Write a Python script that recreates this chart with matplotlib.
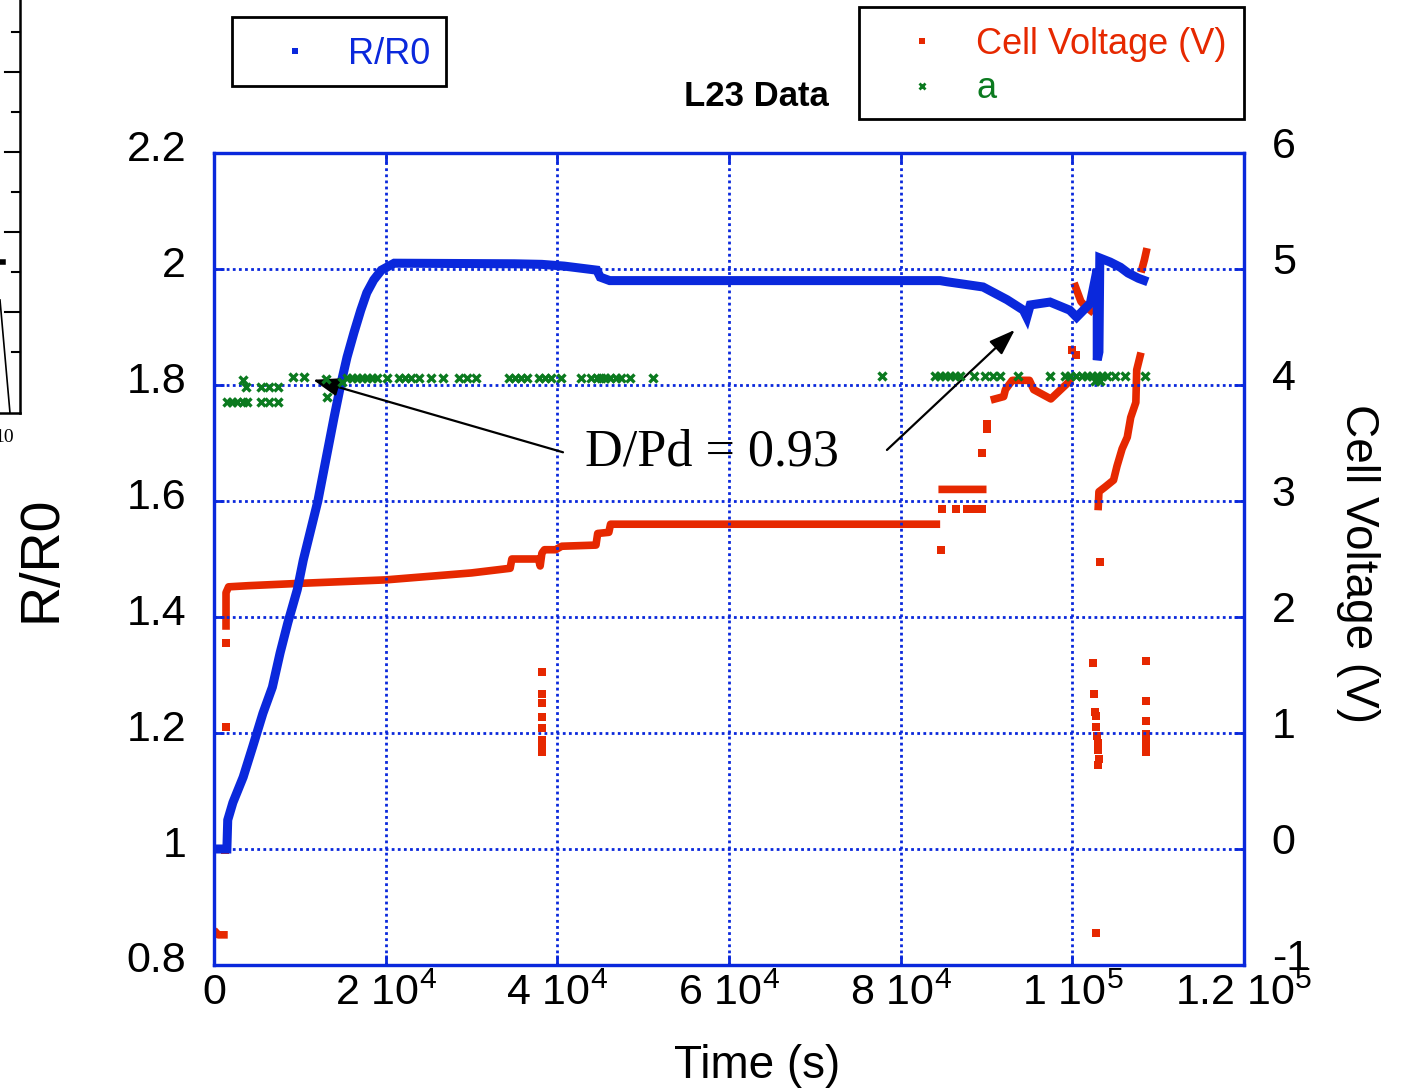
import numpy as np
import matplotlib
matplotlib.use('Agg')
import matplotlib.pyplot as plt
import matplotlib.transforms as mtransforms
from matplotlib.lines import Line2D
from matplotlib.patches import Rectangle

plt.rcParams['font.family'] = ['Liberation Sans', 'DejaVu Sans']
plt.rcParams['mathtext.fontset'] = 'custom'
plt.rcParams['mathtext.rm'] = 'Liberation Sans'
plt.rcParams['mathtext.it'] = 'Liberation Sans:italic'

blue = '#0a28dc'
red = '#e62800'
green = '#0b7a1f'

W, H = 1401, 1088

# times are in units of 1e4 s
rr0_t = [0, 0.15, 0.16, 0.22, 0.34, 0.45, 0.57, 0.68, 0.77, 0.86, 0.97, 1.04, 1.21, 1.40, 1.48,
         1.55, 1.63, 1.71, 1.78, 1.86, 1.95, 2.10, 3.50, 3.82, 4.08, 4.46, 4.50, 4.61, 8.46, 8.54,
         8.96, 9.24, 9.43, 9.47, 9.51, 9.74, 9.97, 10.05, 10.21, 10.29, 10.29, 10.31, 10.32, 10.44,
         10.56, 10.65, 10.77, 10.88]
rr0_v = [1.0, 1.0, 1.05, 1.08, 1.124, 1.176, 1.234, 1.279, 1.338, 1.39, 1.447, 1.498, 1.60, 1.745,
         1.803, 1.848, 1.89, 1.929, 1.959, 1.981, 1.998, 2.010, 2.009, 2.008, 2.005, 1.998, 1.986,
         1.980, 1.980, 1.978, 1.969, 1.947, 1.929, 1.917, 1.938, 1.943, 1.929, 1.917, 1.941, 2.000,
         1.843, 1.857, 2.019, 2.012, 2.003, 1.993, 1.984, 1.978]

# cell voltage, continuous runs (nan = gap in the record)
volt_t = [0, 0.05, 0.16, np.nan,
          0.14, 0.14, 0.17, 0.4, 1.0, 2.0, 3.0, 3.45, 3.47, 3.78, 3.80, 3.82, 3.85, 3.98, 4.05,
          4.45, 4.47, 4.60, 4.62, 8.46, np.nan,
          8.44, 9.00, np.nan,
          9.05, 9.20, 9.22, 9.30, 9.50, 9.55, 9.65, 9.75, 9.85, 9.95, 10.01, np.nan,
          10.02, 10.05, 10.10, 10.15, 10.25, np.nan,
          10.30, 10.31, 10.38, 10.48, 10.52, 10.58, 10.64, 10.68, 10.74, 10.75, 10.80, np.nan,
          10.80, 10.84, 10.87]
volt_v = [-0.70, -0.74, -0.74, np.nan,
          1.89, 2.21, 2.26, 2.27, 2.29, 2.32, 2.38, 2.42, 2.50, 2.50, 2.44, 2.55, 2.58, 2.58, 2.61,
          2.62, 2.72, 2.73, 2.80, 2.80, np.nan,
          3.10, 3.10, np.nan,
          3.87, 3.90, 3.96, 4.04, 4.04, 3.96, 3.92, 3.88, 3.95, 4.02, 4.03, np.nan,
          4.88, 4.82, 4.72, 4.68, 4.62, np.nan,
          2.92, 3.08, 3.12, 3.18, 3.30, 3.45, 3.55, 3.72, 3.85, 4.13, 4.28, np.nan,
          4.97, 5.08, 5.18]

# cell voltage, isolated readings
volt_dot_t = [0.13, 0.14, 0.14, 3.82, 3.82, 3.82, 3.82, 3.82, 3.82, 3.82, 3.82,
              8.47, 8.48, 8.65, 8.77, 8.87, 8.95, 8.95, 9.00, 9.00, 10.00, 10.04,
              10.32, 10.27, 10.24, 10.25, 10.26, 10.27, 10.28, 10.29, 10.30, 10.30, 10.31, 10.30,
              10.86, 10.86, 10.86, 10.86, 10.86, 10.86, 10.86]
volt_dot_v = [-0.01, 1.05, 1.78, 1.53, 1.34, 1.26, 1.14, 1.04, 0.94, 0.88, 0.84,
              2.58, 2.93, 2.93, 2.93, 2.93, 2.93, 3.41, 3.66, 3.62, 4.30, 4.26,
              2.47, -0.72, 1.60, 1.34, 1.18, 1.15, 1.05, 0.97, 0.91, 0.85, 0.78, 0.72,
              1.62, 1.28, 1.10, 0.99, 0.94, 0.89, 0.84]

a_t = [0.15, 0.21, 0.27, 0.34, 0.38, 0.55, 0.64, 0.75, 0.37, 0.55, 0.64, 0.75, 0.34, 0.92, 1.05,
       1.30, 1.32, 1.49, 1.55, 1.61, 1.67, 1.72, 1.78, 1.84, 1.90, 2.02, 2.16, 2.23, 2.30, 2.39,
       2.53, 2.67, 2.85, 2.95, 3.05, 3.44, 3.51, 3.58, 3.65, 3.79, 3.86, 3.93, 4.04, 4.28, 4.39,
       4.46, 4.51, 4.56, 4.61, 4.68, 4.74, 4.85, 5.11, 7.78, 8.40, 8.46, 8.52, 8.58, 8.63, 8.69,
       8.85, 8.98, 9.08, 9.16, 9.37, 9.74, 9.91, 9.97, 10.04, 10.11, 10.17, 10.23, 10.29, 10.35,
       10.40, 10.50, 10.61, 10.85, 10.26, 10.32]
a_v = [1.771, 1.771, 1.771, 1.771, 1.771, 1.771, 1.771, 1.771, 1.797, 1.797, 1.797, 1.797, 1.809,
       1.814, 1.814, 1.810, 1.779, 1.805] + [1.812] * 35 + [1.815] * 25 + [1.807, 1.807]

x_ticks = [0, 2, 4, 6, 8, 10, 12]
x_labels = ['0', '2 10$^{4}$', '4 10$^{4}$', '6 10$^{4}$', '8 10$^{4}$', '1 10$^{5}$', '1.2 10$^{5}$']
left_ticks = [0.8, 1.0, 1.2, 1.4, 1.6, 1.8, 2.0, 2.2]
left_labels = ['0.8', '1', '1.2', '1.4', '1.6', '1.8', '2', '2.2']
right_ticks = [-1, 0, 1, 2, 3, 4, 5, 6]


def fpx(x, y):
    return x / W, 1 - y / H


fig = plt.figure(figsize=(W / 100, H / 100), dpi=100)
ax = fig.add_axes([214 / W, 1 - 965 / H, 1030 / W, 812 / H])
ax2 = ax.twinx()

t1 = np.array(rr0_t) * 1e4
ax.plot(t1, rr0_v, color=blue, lw=6.5, solid_joinstyle='miter', solid_capstyle='butt', zorder=3)
ax.plot(np.array(a_t) * 1e4, a_v, ls='none', marker='x', ms=5.5, mew=2.4, color=green, zorder=4)

ax2.plot(np.array(volt_t) * 1e4, volt_v, color=red, lw=5.5, solid_capstyle='butt')
ax2.plot(np.array(volt_dot_t) * 1e4, volt_dot_v, ls='none', marker='s', ms=5.5, mew=0, color=red)

ax.set_zorder(ax2.get_zorder() + 1)
ax.patch.set_visible(False)

ax.set_xlim(0, 1.2e5)
ax.set_ylim(0.8, 2.2)
ax2.set_ylim(-1, 6)
ax.set_xticks([v * 1e4 for v in x_ticks])
ax.set_xticklabels(x_labels)
ax.set_yticks(left_ticks)
ax.set_yticklabels(left_labels)
ax2.set_yticks(right_ticks)
ax2.set_yticklabels([str(v) for v in right_ticks])

ax.grid(True, color=blue, ls=(0, (1, 1.2)), lw=2)
for a in (ax, ax2):
    for s in a.spines.values():
        s.set_color(blue)
        s.set_linewidth(2.3)
ax.tick_params(axis='both', direction='in', length=7, width=2, color=blue, labelsize=31,
               top=True)
ax.tick_params(axis='y', pad=20)
ax.tick_params(axis='x', pad=6)
ax2.tick_params(axis='y', direction='in', length=7, width=2, color=blue, labelsize=31, pad=20)

up = mtransforms.ScaledTranslation(0, 8 / 100, fig.dpi_scale_trans)
for lbl in ax.get_yticklabels():
    lbl.set_transform(lbl.get_transform() + up)
up2 = mtransforms.ScaledTranslation(0, 10 / 100, fig.dpi_scale_trans)
for lbl in ax2.get_yticklabels():
    lbl.set_transform(lbl.get_transform() + up2)

ax.set_xlabel('Time (s)', fontsize=33)
ax.xaxis.set_label_coords(0.527, -0.097)
ax.set_ylabel('R/R0', fontsize=40)
ax.yaxis.set_label_coords(-0.142, 0.5)
ax2.set_ylabel('Cell Voltage (V)', fontsize=33, rotation=270, va='center')
ax2.yaxis.set_label_coords(1.111, 0.495)

# arrows pointing at the two loading levels
arrow = dict(arrowstyle='-|>,head_length=1.0,head_width=0.35', color='k', lw=1.6,
             mutation_scale=16, shrinkA=0, shrinkB=0)
ax.annotate('', xy=(1.153e4, 1.809), xytext=(4.066e4, 1.684), arrowprops=arrow)
ax.annotate('', xy=(9.33e4, 1.895), xytext=(7.84e4, 1.688), arrowprops=arrow)
ax.text(4.32e4, 1.684, 'D/Pd = 0.93', fontsize=37.5, family=['Liberation Serif'], va='center',
        ha='left')

fig.text(*fpx(756, 97), 'L23 Data', fontsize=25, fontweight='bold', ha='center', va='center')

# legends drawn as boxes
fig.add_artist(Rectangle(fpx(232, 86), 214 / W, 69 / H, transform=fig.transFigure,
                         fill=False, ec='k', lw=2))
fig.add_artist(Line2D([295 / W], [1 - 51 / H], transform=fig.transFigure, marker='s', ms=5,
                      mew=0, color=blue, ls='none'))
fig.text(*fpx(348, 54), 'R/R0', color=blue, fontsize=26, va='center', ha='left')

fig.add_artist(Rectangle(fpx(859, 119), 385 / W, 112 / H, transform=fig.transFigure,
                         fill=False, ec='k', lw=2))
fig.add_artist(Line2D([922 / W], [1 - 41 / H], transform=fig.transFigure, marker='s', ms=5,
                      mew=0, color=red, ls='none'))
fig.text(*fpx(976, 45), 'Cell Voltage (V)', color=red, fontsize=26, va='center', ha='left')
fig.add_artist(Line2D([922 / W], [1 - 86 / H], transform=fig.transFigure, marker='x', ms=5,
                      mew=2, color=green, ls='none'))
fig.text(*fpx(976, 88), 'a', color=green, fontsize=26, va='center', ha='left')

# piece of a neighbouring figure, cut at the left edge
fig.add_artist(Line2D([20 / W, 20 / W], [1, 1 - 413 / H], transform=fig.transFigure,
                      color='k', lw=1.8))
fig.add_artist(Line2D([0, 20 / W], [1 - 413 / H, 1 - 413 / H], transform=fig.transFigure,
                      color='k', lw=1.8))
for i, yy in enumerate(range(32, 360, 40)):
    x0 = 5 if i % 2 == 1 else 12
    fig.add_artist(Line2D([x0 / W, 20 / W], [1 - yy / H, 1 - yy / H],
                          transform=fig.transFigure, color='k', lw=1.5))
fig.add_artist(Line2D([0, 10 / W], [1 - 300 / H, 1 - 413 / H], transform=fig.transFigure,
                      color='k', lw=1.2))
fig.add_artist(Line2D([0, 3 / W], [1 - 262 / H, 1 - 262 / H], transform=fig.transFigure,
                      color='k', lw=4))
fig.text(14 / W, 1 - 438 / H, '10', fontsize=14, family=['Liberation Serif'], ha='right',
         va='center')

fig.savefig('out.png', dpi=100)
